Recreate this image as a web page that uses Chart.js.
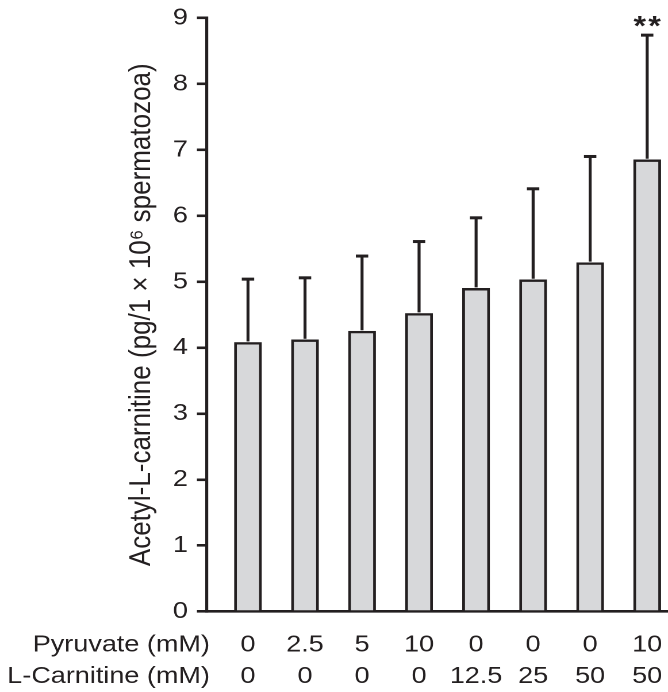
<!DOCTYPE html>
<html>
<head>
<meta charset="utf-8">
<script src="https://cdn.jsdelivr.net/npm/chart.js@4/dist/chart.umd.min.js"></script>
<style>
  html, body { margin: 0; padding: 0; background: #ffffff; overflow: hidden; }
  #wrap { width: 668px; height: 692px; overflow: hidden; }
  #c { transform: scaleX(1.1497); transform-origin: 0 0; }
</style>
</head>
<body>
<div id="wrap"><canvas id="c" width="581" height="692"></canvas></div>
<script>
// ---- data ----
const pyruvate   = ['0', '2.5', '5', '10', '0', '0', '0', '10'];
const carnitine  = ['0', '0', '0', '0', '12.5', '25', '50', '50'];
const means      = [4.08, 4.12, 4.25, 4.52, 4.90, 5.03, 5.29, 6.85];
const errors     = [0.96, 0.94, 1.14, 1.09, 1.07, 1.38, 1.61, 1.89];
const marks      = ['', '', '', '', '', '', '', '**'];
const yTicks     = [0, 1, 2, 3, 4, 5, 6, 7, 8, 9];
const rowTitles  = ['Pyruvate (mM)', 'L-Carnitine (mM)'];
const yTitle     = 'Acetyl-L-carnitine (pg/1 \u00d7 10\u2076 spermatozoa)';

const INK = '#231f20';
const FONT = "'Liberation Sans', Arial, Helvetica, sans-serif";
const X_LABEL_GAP = 18;
const X_LINE_H = 1.33;
const X_FONT_SIZE = 23.5;

const errorBars = {
  id: 'errorBars',
  afterDatasetsDraw(chart) {
    const ctx = chart.ctx;
    const xs = chart.scales.x, ys = chart.scales.y;
    ctx.save();
    ctx.strokeStyle = INK;
    ctx.fillStyle = INK;
    means.forEach((m, i) => {
      const x = xs.getPixelForValue(i);
      const yb = ys.getPixelForValue(m);
      const yt = ys.getPixelForValue(m + errors[i]);
      ctx.lineWidth = 2.6;
      ctx.beginPath();
      ctx.moveTo(x, yb - 1);
      ctx.lineTo(x, yt);
      ctx.stroke();
      ctx.lineWidth = 3;
      ctx.beginPath();
      ctx.moveTo(x - 5.4, yt);
      ctx.lineTo(x + 5.4, yt);
      ctx.stroke();
      if (marks[i]) {
        ctx.font = 'bold 28px ' + FONT;
        ctx.textAlign = 'center';
        ctx.textBaseline = 'alphabetic';
        try { ctx.letterSpacing = '2px'; } catch (e) {}
        ctx.fillText(marks[i], x + 1, 35);
        try { ctx.letterSpacing = '0px'; } catch (e) {}
      }
    });
    // row titles for the two label rows
    ctx.font = X_FONT_SIZE + 'px ' + FONT;
    ctx.textAlign = 'right';
    ctx.textBaseline = 'middle';
    const top = xs.top + X_LABEL_GAP;
    const lh = X_FONT_SIZE * X_LINE_H;
    rowTitles.forEach((t, r) => {
      ctx.fillText(t, xs.left + 2.6, top + lh * (r + 0.5));
    });
    ctx.restore();
  }
};

new Chart(document.getElementById('c'), {
  type: 'bar',
  data: {
    datasets: [{
      data: means.map((v, i) => ({ x: i, y: v })),
      backgroundColor: '#d7d8da',
      borderColor: INK,
      borderWidth: 2.4,
      barThickness: 23.5
    }]
  },
  options: {
    responsive: false,
    devicePixelRatio: 2,
    animation: false,
    layout: { padding: { left: 104.7, right: 0, top: 18, bottom: 0 } },
    plugins: { legend: { display: false }, tooltip: { enabled: false } },
    scales: {
      x: {
        type: 'linear',
        offset: false,
        min: -0.72,
        max: 7.365,
        afterBuildTicks(scale) { scale.ticks = pyruvate.map((_, i) => ({ value: i })); },
        grid: { display: true, drawOnChartArea: false, drawTicks: true, tickLength: X_LABEL_GAP, color: 'rgba(0,0,0,0)' },
        border: { display: true, color: INK, width: 2.6 },
        ticks: {
          padding: 0,
          color: INK,
          font: { family: FONT, size: X_FONT_SIZE, lineHeight: X_LINE_H },
          maxRotation: 0,
          autoSkip: false,
          callback: (v) => [pyruvate[v], carnitine[v]]
        }
      },
      y: {
        min: 0,
        max: 9,
        afterBuildTicks(scale) { scale.ticks = yTicks.map(v => ({ value: v })); },
        grid: { drawOnChartArea: false, drawTicks: true, tickLength: 8.7, color: INK, lineWidth: 2.6 },
        border: { display: true, color: INK, width: 2.6 },
        ticks: {
          padding: 7.8,
          color: INK,
          font: { family: FONT, size: 23.5, lineHeight: 0.7 }
        },
        title: {
          display: true,
          text: yTitle,
          color: INK,
          font: { family: FONT, size: 26 },
          padding: { top: 3, bottom: 3.7 }
        }
      }
    }
  },
  plugins: [errorBars]
});
</script>
</body>
</html>
